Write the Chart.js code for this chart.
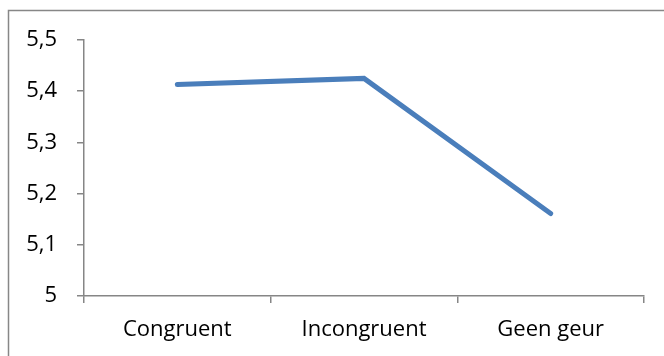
<!DOCTYPE html>
<html>
<head>
<meta charset="utf-8">
<script src="https://cdn.jsdelivr.net/npm/chart.js@4/dist/chart.umd.min.js"></script>
<style>
  html, body { margin: 0; padding: 0; background: #fff; }
  #wrap { position: relative; width: 664px; height: 356px; }
</style>
</head>
<body>
<div id="wrap"><canvas id="c" width="664" height="356"></canvas></div>
<script>
// Mean scores per condition
const categories = ['Congruent', 'Incongruent', 'Geen geur'];
const meanScores = [5.413, 5.425, 5.161];
const yTicks = [5, 5.1, 5.2, 5.3, 5.4, 5.5];

const axisGray = '#868686';
const fontFamily = '"Open Sans", "Liberation Sans", sans-serif';

// Grey outer frame of the chart object
const framePlugin = {
  id: 'frame',
  beforeDraw(chart) {
    const ctx = chart.ctx;
    ctx.save();
    ctx.fillStyle = '#fff';
    ctx.fillRect(0, 0, chart.width, chart.height);
    ctx.strokeStyle = '#878787';
    ctx.lineWidth = 1.5;
    ctx.strokeRect(8.5, 10.5, 700, 400);
    ctx.restore();
  }
};

new Chart(document.getElementById('c'), {
  type: 'line',
  data: {
    labels: categories,
    datasets: [{
      data: meanScores,
      borderColor: '#4a7ebb',
      borderWidth: 5,
      borderCapStyle: 'round',
      borderJoinStyle: 'miter',
      pointRadius: 0,
      tension: 0,
      fill: false
    }]
  },
  options: {
    responsive: false,
    animation: false,
    layout: { padding: { top: 40, right: 20, left: 0, bottom: 0 } },
    plugins: { legend: { display: false }, tooltip: { enabled: false } },
    scales: {
      x: {
        offset: true,
        grid: {
          offset: true,
          drawOnChartArea: false,
          drawTicks: true,
          tickLength: 7,
          color: axisGray,
          lineWidth: 1.5
        },
        border: { color: axisGray, width: 1.5 },
        ticks: {
          color: '#000',
          padding: 14,
          maxRotation: 0,
          font: { family: fontFamily, size: 22 }
        },
        afterFit(scale) { scale.height = 60; }
      },
      y: {
        min: 5,
        max: 5.5,
        afterBuildTicks(scale) { scale.ticks = yTicks.map(v => ({ value: v })); },
        grid: {
          drawOnChartArea: false,
          drawTicks: true,
          tickLength: 7,
          color: axisGray,
          lineWidth: 1.5
        },
        border: { color: axisGray, width: 1.5 },
        ticks: {
          color: '#000',
          padding: 20,
          font: { family: fontFamily, size: 22 },
          callback: v => String(Math.round(v * 10) / 10).replace('.', ',')
        },
        afterFit(scale) { scale.width = 84; }
      }
    }
  },
  plugins: [framePlugin]
});
</script>
</body>
</html>
